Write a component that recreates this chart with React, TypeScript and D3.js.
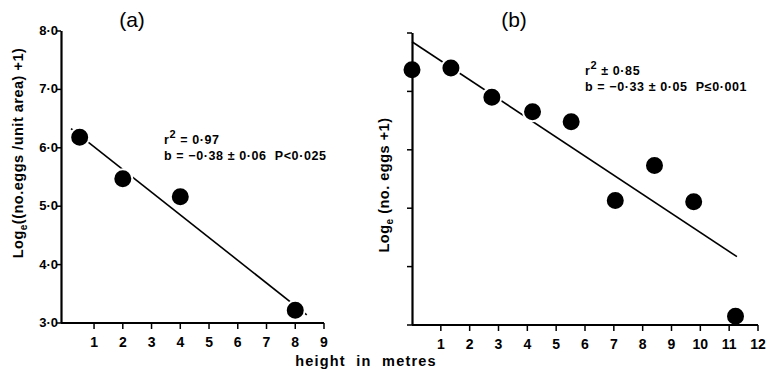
import React, { useEffect, useRef } from 'react';
import * as d3 from 'd3';

// panel (a): eggs per unit area
const heightA = [0.5, 2, 4, 8];
const eggsA = [6.18, 5.47, 5.16, 3.22];
const fitA = [[0.2, 6.33], [8.4, 3.14]];
const xTicksA = [1, 2, 3, 4, 5, 6, 7, 8, 9];
const yTicksA = [3, 4, 5, 6, 7, 8];

// panel (b): eggs per sample
const heightB = [0, 1.35, 2.77, 4.18, 5.52, 7.05, 8.41, 9.77, 11.22];
const eggsB = [7.37, 7.4, 6.9, 6.65, 6.48, 5.13, 5.73, 5.11, 3.15];
const fitB = [[0, 7.85], [11.27, 4.17]];
const xTicksB = [1, 2, 3, 4, 5, 6, 7, 8, 9, 10, 11, 12];
const yTicksB = [3, 4, 5, 6, 7, 8];

const FONT = "'Liberation Sans', Arial, sans-serif";

const App = () => {
  const ref = useRef<SVGSVGElement>(null);

  useEffect(() => {
    const svg = d3.select(ref.current);
    svg.selectAll('*').remove();

    const drawPanel = (opts: any) => {
      const { x, y, xs, ys, fit, xTicks, yTicks, showYLabels } = opts;
      const g = svg.append('g');

      // regression line
      g.append('line')
        .attr('x1', x(fit[0][0])).attr('y1', y(fit[0][1]))
        .attr('x2', x(fit[1][0])).attr('y2', y(fit[1][1]))
        .attr('stroke', '#000').attr('stroke-width', 1.6);

      // points with a white halo
      g.selectAll('circle.pt')
        .data(xs.map((v: number, i: number) => [v, ys[i]]))
        .enter()
        .append('circle')
        .attr('class', 'pt')
        .attr('cx', (d: number[]) => x(d[0]))
        .attr('cy', (d: number[]) => y(d[1]))
        .attr('r', 9.5)
        .attr('fill', '#000')
        .attr('stroke', '#fff')
        .attr('stroke-width', 2);

      const [x0, x1] = x.range();
      const [y0, y1] = y.range();

      // axes
      g.append('line')
        .attr('x1', x0).attr('x2', x1).attr('y1', y0).attr('y2', y0)
        .attr('stroke', '#000').attr('stroke-width', 2.2);
      g.append('line')
        .attr('x1', x0 + 0.5).attr('x2', x0 + 0.5).attr('y1', y0).attr('y2', y1)
        .attr('stroke', '#000').attr('stroke-width', 2.2);

      // x ticks
      g.selectAll('line.xt')
        .data(xTicks)
        .enter()
        .append('line')
        .attr('x1', (d: number) => x(d)).attr('x2', (d: number) => x(d))
        .attr('y1', y0).attr('y2', y0 + 6)
        .attr('stroke', '#000').attr('stroke-width', 1.5);
      g.selectAll('text.xl')
        .data(xTicks)
        .enter()
        .append('text')
        .attr('x', (d: number) => x(d))
        .attr('y', y0 + 24)
        .attr('text-anchor', 'middle')
        .attr('font-family', FONT)
        .attr('font-weight', 'bold')
        .attr('font-size', 14)
        .text((d: number) => d);

      // y ticks
      g.selectAll('line.yt')
        .data(yTicks)
        .enter()
        .append('line')
        .attr('x1', x0 - 5).attr('x2', x0)
        .attr('y1', (d: number) => y(d)).attr('y2', (d: number) => y(d))
        .attr('stroke', '#000').attr('stroke-width', 1.5);
      if (showYLabels) {
        g.selectAll('text.yl')
          .data(yTicks)
          .enter()
          .append('text')
          .attr('x', x0 - 3)
          .attr('y', (d: number) => y(d) + 4)
          .attr('text-anchor', 'end')
          .attr('font-family', FONT)
          .attr('font-weight', 'bold')
          .attr('font-size', 13)
          .text((d: number) => d.toFixed(1).replace('.', '·'));
      }
    };

    const xA = d3.scaleLinear().domain([-0.15, 9]).range([61, 324]);
    const yA = d3.scaleLinear().domain([3, 8]).range([323, 31]);
    drawPanel({ x: xA, y: yA, xs: heightA, ys: eggsA, fit: fitA, xTicks: xTicksA, yTicks: yTicksA, showYLabels: true });

    const xB = d3.scaleLinear().domain([0, 12]).range([412, 758]);
    const yB = d3.scaleLinear().domain([3, 8]).range([325, 33]);
    drawPanel({ x: xB, y: yB, xs: heightB, ys: eggsB, fit: fitB, xTicks: xTicksB, yTicks: yTicksB, showYLabels: false });

    // panel titles
    svg.append('text').attr('x', 132).attr('y', 27).attr('text-anchor', 'middle')
      .attr('font-family', FONT).attr('font-size', 21).text('(a)');
    svg.append('text').attr('x', 514).attr('y', 27).attr('text-anchor', 'middle')
      .attr('font-family', FONT).attr('font-size', 21).text('(b)');

    // y axis titles
    const yTitle = (cx: number, cy: number, main: string, rest: string) => {
      const t = svg.append('text')
        .attr('transform', `translate(${cx},${cy}) rotate(-90)`)
        .attr('text-anchor', 'middle')
        .attr('font-family', FONT)
        .attr('font-weight', 'bold')
        .attr('font-size', 14.5)
        .attr('letter-spacing', 0.5);
      t.append('tspan').text(main);
      t.append('tspan').attr('font-size', 10).attr('dy', 4).text('e');
      t.append('tspan').attr('dy', -4).text(rest);
    };
    yTitle(23, 153, 'Log', '((no.eggs /unit area) +1)');
    yTitle(389, 185, 'Log', ' (no. eggs +1)');

    // x axis title
    svg.append('text').attr('x', 366).attr('y', 366).attr('text-anchor', 'middle')
      .attr('font-family', FONT).attr('font-weight', 'bold').attr('font-size', 14.5)
      .attr('letter-spacing', 1.2).style('white-space', 'pre').text('height  in  metres');

    // regression statistics
    const stats = (x: number, y: number, r2: string, line2: string) => {
      const t = svg.append('text')
        .attr('x', x).attr('y', y)
        .attr('font-family', FONT).attr('font-weight', 'bold').attr('font-size', 12.5)
        .attr('letter-spacing', 0.6)
        .style('white-space', 'pre');
      t.append('tspan').text('r');
      t.append('tspan').attr('dy', -6).attr('font-size', 11).text('2');
      t.append('tspan').attr('dy', 6).text(r2);
      svg.append('text').attr('x', x).attr('y', y + 16)
        .attr('font-family', FONT).attr('font-weight', 'bold').attr('font-size', 12.5)
        .attr('letter-spacing', 0.6)
        .style('white-space', 'pre')
        .text(line2);
    };
    stats(164, 144, ' = 0·97', 'b = −0·38 ± 0·06  P<0·025');
    stats(585, 75, ' ± 0·85', 'b = −0·33 ± 0·05  P≤0·001');
  }, []);

  return (
    <svg
      ref={ref}
      width={768}
      height={372}
      style={{ display: 'block', position: 'fixed', left: 0, top: 0, background: '#fff' }}
    />
  );
};

export default App;
